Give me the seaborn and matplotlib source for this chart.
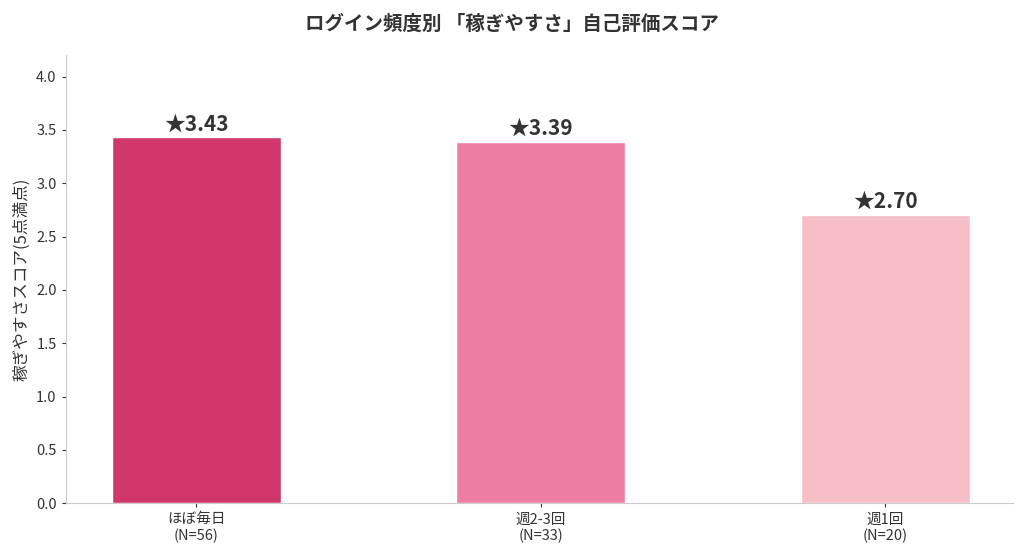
import pandas as pd
import seaborn as sns
import matplotlib.pyplot as plt

# data
groups = ['ほぼ毎日\n(N=56)', '週2-3回\n(N=33)', '週1回\n(N=20)']
scores = [3.43, 3.39, 2.70]
colors = ['#E91E63', '#FF6B9D', '#FFB6C1']

sns.set_style('white')
plt.rcParams['font.family'] = ['Noto Sans CJK JP', 'DejaVu Sans']

df = pd.DataFrame({'group': groups, 'score': scores})

fig = plt.figure(figsize=(10.24, 5.58), dpi=100)
ax = fig.add_axes([0.064, 0.098, 0.925, 0.803])
sns.barplot(data=df, x='group', y='score', hue='group', palette=colors,
            width=0.49, legend=False, ax=ax)

for i, v in enumerate(scores):
    ax.text(i, v + 0.03, f'★{v:.2f}', ha='center', va='bottom',
            fontsize=15, fontweight='bold', color='#333333')

ax.set_ylim(0, 4.2)
ax.set_xlim(-0.38, 2.37)
ax.set_yticks([0, 0.5, 1, 1.5, 2, 2.5, 3, 3.5, 4])
ax.set_yticklabels([f'{t:.1f}' for t in ax.get_yticks()])
ax.set_xlabel('')
ax.set_ylabel('稼ぎやすさスコア(5点満点)', fontsize=12, color='#333333')
ax.tick_params(labelsize=10.5, colors='#333333', left=True, bottom=True, length=3)
for s in ['top', 'right']:
    ax.spines[s].set_visible(False)
for s in ['left', 'bottom']:
    ax.spines[s].set_color('#cccccc')
fig.suptitle('ログイン頻度別 「稼ぎやすさ」自己評価スコア', fontsize=14,
             fontweight='bold', color='#333333', y=0.975)

fig.savefig('out.png', dpi=100)
